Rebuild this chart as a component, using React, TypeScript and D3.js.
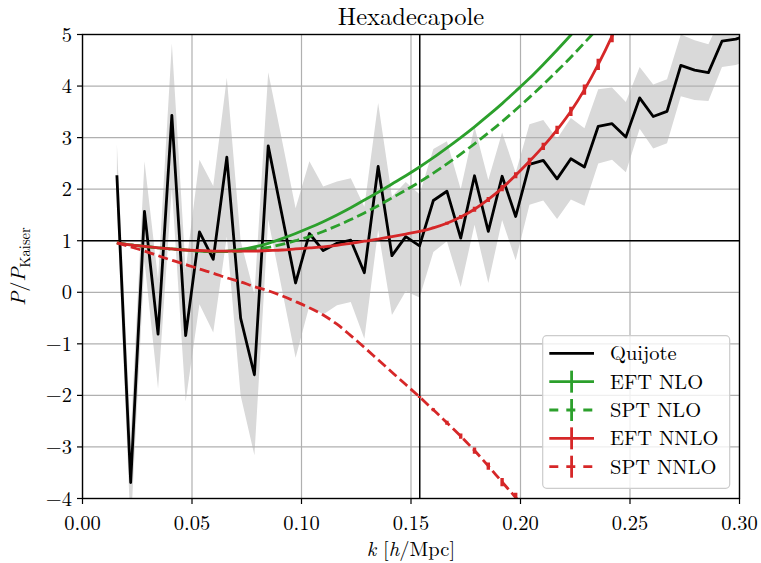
import React from 'react';
import * as d3 from 'd3';

// k bins (h/Mpc)
const kValues = [
  0.0157, 0.0220, 0.0283, 0.0345, 0.0408, 0.0471, 0.0534, 0.0597, 0.0659, 0.0722,
  0.0785, 0.0848, 0.0911, 0.0973, 0.1036, 0.1099, 0.1162, 0.1225, 0.1287, 0.1350,
  0.1413, 0.1476, 0.1539, 0.1602, 0.1664, 0.1727, 0.1790, 0.1853, 0.1916, 0.1978,
  0.2041, 0.2104, 0.2167, 0.2230, 0.2292, 0.2355, 0.2418, 0.2481, 0.2544, 0.2606,
  0.2669, 0.2732, 0.2795, 0.2858, 0.2920, 0.2983, 0.3046,
];

// Quijote measurement P/P_Kaiser
const quijote = [
  2.27, -3.69, 1.57, -0.81, 3.43, -0.84, 1.17, 0.64, 2.62, -0.50,
  -1.60, 2.84, 1.50, 0.18, 1.14, 0.81, 0.95, 1.01, 0.38, 2.44,
  0.71, 1.08, 0.90, 1.78, 1.96, 1.05, 2.26, 1.18, 2.25, 1.47,
  2.48, 2.56, 2.20, 2.59, 2.43, 3.22, 3.27, 3.01, 3.77, 3.41,
  3.51, 4.40, 4.31, 4.26, 4.87, 4.91, 5.00,
];
const quijoteErr = [
  0.60, 0.90, 0.97, 1.06, 1.40, 1.28, 1.40, 1.42, 1.54, 1.50,
  1.56, 1.43, 1.45, 1.45, 1.40, 1.24, 1.20, 1.20, 1.28, 1.23,
  1.15, 1.06, 1.00, 1.00, 0.97, 0.95, 0.95, 1.00, 0.85, 0.85,
  0.78, 0.78, 0.78, 0.79, 0.75, 0.72, 0.70, 0.68, 0.60, 0.62,
  0.62, 0.60, 0.58, 0.55, 0.50, 0.50, 0.50,
];

// Theory curves, evaluated on the same k bins
const eftNLO = [
  0.96, 0.92, 0.89, 0.86, 0.84, 0.82, 0.80, 0.79, 0.80, 0.83,
  0.88, 0.95, 1.04, 1.14, 1.25, 1.37, 1.50, 1.64, 1.79, 1.94,
  2.10, 2.26, 2.43, 2.61, 2.80, 3.00, 3.21, 3.43, 3.66, 3.90,
  4.15, 4.42, 4.70, 4.99, 5.29,
];
const sptNLO = [
  0.96, 0.92, 0.89, 0.86, 0.84, 0.82, 0.80, 0.79, 0.79, 0.80,
  0.83, 0.87, 0.93, 1.00, 1.08, 1.18, 1.29, 1.41, 1.54, 1.68,
  1.83, 1.98, 2.14, 2.31, 2.49, 2.68, 2.88, 3.09, 3.31, 3.54,
  3.78, 4.03, 4.29, 4.56, 4.84, 5.13,
];
const eftNNLO = [
  0.96, 0.92, 0.89, 0.86, 0.84, 0.82, 0.81, 0.80, 0.80, 0.80,
  0.80, 0.81, 0.82, 0.84, 0.86, 0.88, 0.91, 0.95, 0.99, 1.03,
  1.08, 1.13, 1.18, 1.25, 1.34, 1.46, 1.61, 1.80, 2.02, 2.27,
  2.54, 2.83, 3.15, 3.51, 3.93, 4.42, 4.97, 5.58,
];
const eftNNLOErr = [
  0, 0, 0, 0, 0, 0, 0, 0, 0, 0,
  0, 0, 0, 0, 0, 0, 0, 0, 0, 0,
  0, 0, 0, 0.02, 0.03, 0.04, 0.05, 0.05, 0.06, 0.06,
  0.07, 0.07, 0.08, 0.09, 0.10, 0.11, 0.12, 0.13,
];
const sptNNLO = [
  0.96, 0.88, 0.80, 0.71, 0.62, 0.54, 0.45, 0.37, 0.28, 0.20,
  0.11, 0.03, -0.07, -0.18, -0.30, -0.44, -0.62, -0.84, -1.07, -1.31,
  -1.55, -1.79, -2.03, -2.28, -2.53, -2.79, -3.07, -3.37, -3.68, -3.98,
  -4.30,
];
const sptNNLOErr = [
  0, 0, 0, 0, 0, 0, 0, 0, 0, 0,
  0, 0, 0, 0, 0, 0, 0, 0, 0, 0,
  0, 0, 0.02, 0.03, 0.04, 0.05, 0.06, 0.07, 0.08, 0.09,
  0.10,
];

const xTicks = [0, 0.05, 0.1, 0.15, 0.2, 0.25, 0.3];
const yTicks = [-4, -3, -2, -1, 0, 1, 2, 3, 4, 5];
const kMaxLine = 0.154;
const refLevel = 1;

const legendItems = [
  { label: 'Quijote', color: '#000000', dashed: false, err: false },
  { label: 'EFT NLO', color: '#2ca02c', dashed: false, err: true },
  { label: 'SPT NLO', color: '#2ca02c', dashed: true, err: true },
  { label: 'EFT NNLO', color: '#d62728', dashed: false, err: true },
  { label: 'SPT NNLO', color: '#d62728', dashed: true, err: true },
];

const W = 761;
const H = 563;
const L = 82.5, R = 739.5, T = 34.5, B = 498.5;
const FONT = "'Latin Modern Roman'";

export default function App() {
  const x = d3.scaleLinear().domain([0, 0.3]).range([L, R]);
  const y = d3.scaleLinear().domain([-4, 5]).range([B, T]);

  const band = d3
    .area<number>()
    .x((_, i) => x(kValues[i]))
    .y0((v, i) => y(v - quijoteErr[i]))
    .y1((v, i) => y(v + quijoteErr[i]))(quijote) as string;

  const line = d3
    .line<number>()
    .x((_, i) => x(kValues[i]))
    .y((v) => y(v));

  const smooth = d3
    .line<number>()
    .x((_, i) => x(kValues[i]))
    .y((v) => y(v))
    .curve(d3.curveMonotoneX);

  const theory = [
    { vals: eftNLO, err: null as number[] | null, color: '#2ca02c', dashed: false },
    { vals: sptNLO, err: null, color: '#2ca02c', dashed: true },
    { vals: eftNNLO, err: eftNNLOErr, color: '#d62728', dashed: false },
    { vals: sptNNLO, err: sptNNLOErr, color: '#d62728', dashed: true },
  ];

  const lw = 2.8;
  const legX = 542.7, legY = 335.7, legW = 187, legH = 152.6;
  const rowY = (i: number) => 353.3 + i * 28.35;
  const txt = { fontFamily: FONT } as React.CSSProperties;

  return (
    <svg width={W} height={H} style={{ position: 'absolute', left: 0, top: 0, background: '#fff' }}>
      <defs>
        <clipPath id="plotClip">
          <rect x={L} y={T} width={R - L} height={B - T} />
        </clipPath>
      </defs>
      <rect x={0} y={0} width={W} height={H} fill="#fff" />

      <g clipPath="url(#plotClip)">
        <path d={band} fill="#d9d9d9" stroke="none" />
        {xTicks.map((t) => (
          <line key={'gx' + t} x1={x(t)} x2={x(t)} y1={T} y2={B} stroke="#b0b0b0" strokeWidth={1.2} />
        ))}
        {yTicks.map((t) => (
          <line key={'gy' + t} x1={L} x2={R} y1={y(t)} y2={y(t)} stroke="#b0b0b0" strokeWidth={1.2} />
        ))}
        <line x1={L} x2={R} y1={y(refLevel)} y2={y(refLevel)} stroke="#000" strokeWidth={1.5} />
        <line x1={x(kMaxLine)} x2={x(kMaxLine)} y1={T} y2={B} stroke="#000" strokeWidth={1.5} />

        <path d={line(quijote) as string} fill="none" stroke="#000" strokeWidth={lw} strokeLinejoin="round" />

        {theory.map((th, j) => (
          <g key={'th' + j}>
            <path
              d={smooth(th.vals) as string}
              fill="none"
              stroke={th.color}
              strokeWidth={lw}
              strokeDasharray={th.dashed ? '10,4.5' : undefined}
              strokeLinejoin="round"
            />
            {th.err &&
              th.vals.map((v, i) =>
                th.err![i] > 0 ? (
                  <line
                    key={i}
                    x1={x(kValues[i])}
                    x2={x(kValues[i])}
                    y1={y(v - th.err![i])}
                    y2={y(v + th.err![i])}
                    stroke={th.color}
                    strokeWidth={lw + 0.6}
                  />
                ) : null
              )}
          </g>
        ))}
      </g>

      {/* spines */}
      <rect x={L} y={T} width={R - L} height={B - T} fill="none" stroke="#000" strokeWidth={1.4} />

      {/* x ticks */}
      {xTicks.map((t) => (
        <g key={'xt' + t}>
          <line x1={x(t)} x2={x(t)} y1={B} y2={B + 5.5} stroke="#000" strokeWidth={1.2} />
          <text x={x(t)} y={530} textAnchor="middle" fontSize={20.5} fill="#000" style={txt}>
            {t.toFixed(2)}
          </text>
        </g>
      ))}
      {/* y ticks */}
      {yTicks.map((t) => (
        <g key={'yt' + t}>
          <line x1={L - 5.5} x2={L} y1={y(t)} y2={y(t)} stroke="#000" strokeWidth={1.2} />
          <text x={72} y={y(t) + 7} textAnchor="end" fontSize={20.5} fill="#000" style={txt}>
            {t < 0 ? '\u2212' + Math.abs(t) : String(t)}
          </text>
        </g>
      ))}

      {/* title */}
      <text x={(L + R) / 2} y={24.5} textAnchor="middle" fontSize={24.5} fill="#000" style={txt}>
        Hexadecapole
      </text>

      {/* x label */}
      <text x={(L + R) / 2} y={556} textAnchor="middle" fontSize={20.5} fill="#000" style={txt}>
        <tspan fontStyle="italic">k</tspan>
        <tspan> [</tspan>
        <tspan fontStyle="italic">h</tspan>
        <tspan>/Mpc]</tspan>
      </text>

      {/* y label */}
      <text
        transform={`translate(25,${(T + B) / 2}) rotate(-90)`}
        textAnchor="middle"
        fontSize={20.5}
        fill="#000"
        style={txt}
      >
        <tspan fontStyle="italic">P</tspan>
        <tspan>/</tspan>
        <tspan fontStyle="italic">P</tspan>
        <tspan fontSize={14.5} dy={5}>Kaiser</tspan>
      </text>

      {/* legend */}
      <rect x={legX} y={legY} width={legW} height={legH} rx={4} fill="#fff" fillOpacity={0.8} stroke="#cccccc" strokeWidth={1.2} />
      {legendItems.map((it, i) => {
        const yy = rowY(i);
        return (
          <g key={'lg' + i}>
            <line
              x1={549.3}
              x2={594}
              y1={yy}
              y2={yy}
              stroke={it.color}
              strokeWidth={lw}
              strokeDasharray={it.dashed ? '9,8' : undefined}
            />
            {it.err && (
              <line x1={571.6} x2={571.6} y1={yy - 11} y2={yy + 11} stroke={it.color} strokeWidth={lw} />
            )}
            <text x={610} y={yy + 7} fontSize={20.5} fill="#000" style={txt}>
              {it.label}
            </text>
          </g>
        );
      })}
    </svg>
  );
}
